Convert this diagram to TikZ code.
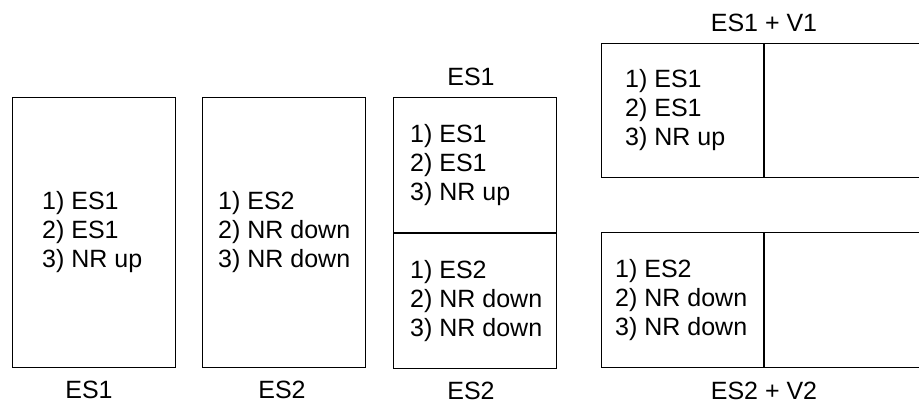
\documentclass[tikz,border=0pt]{standalone}
\usepackage{fontspec}
\setmainfont{Liberation Sans}
\usetikzlibrary{positioning}
\tikzset{
  panel/.style={draw, line width=1pt, minimum width=163pt, inner sep=0pt, anchor=north west},
  steps/.style={align=left, inner sep=0pt, anchor=west, font=\fontsize{25}{29}\selectfont},
  caption/.style={inner sep=0pt, font=\fontsize{25}{29}\selectfont}
}
\begin{document}
\begin{tikzpicture}[x=1pt, y=-1pt]
  \useasboundingbox (0,0) rectangle (919,406);
  \clip (0,0) rectangle (919,406);
  % single scenarios
  \node[panel, minimum height=270pt] (es1) at (12,97) {};
  \node[panel, minimum height=270pt] (es2) at (202,97) {};
  \node[steps, right=30pt of es1.west] (es1txt) {1) ES1\\2) ES1\\3) NR up};
  \node[steps, right=16pt of es2.west] (es2txt) {1) ES2\\2) NR down\\3) NR down};
  \node[caption, below=13pt of es1, xshift=-5pt] (es1lbl) {ES1};
  \node[caption, below=13pt of es2, xshift=-2pt] (es2lbl) {ES2};

  % stacked scenarios
  \node[panel, minimum height=135pt] (mixtop) at (393,97) {};
  \node[panel, minimum height=135pt, below=0pt of mixtop] (mixbot) {};
  \node[steps, right=17pt of mixtop.west] (mixtoptxt) {1) ES1\\2) ES1\\3) NR up};
  \node[steps, right=17pt of mixbot.west] (mixbottxt) {1) ES2\\2) NR down\\3) NR down};
  \node[caption, above=11pt of mixtop, xshift=-4pt] (mixtoplbl) {ES1};
  \node[caption, below=13pt of mixbot, xshift=-4pt] (mixbotlbl) {ES2};

  % scenarios with V
  \node[panel, minimum width=162pt, minimum height=134pt] (v1a) at (601,43) {};
  \node[panel, minimum width=170pt, minimum height=134pt, right=0pt of v1a] (v1b) {};
  \node[panel, minimum width=162pt, minimum height=135pt] (v2a) at (601,232) {};
  \node[panel, minimum width=170pt, minimum height=135pt, right=0pt of v2a] (v2b) {};
  \node[steps, right=24pt of v1a.west] (v1txt) {1) ES1\\2) ES1\\3) NR up};
  \node[steps, right=14pt of v2a.west] (v2txt) {1) ES2\\2) NR down\\3) NR down};
  \node[caption, above=11pt of v1a.north east] (v1lbl) {ES1 + V1};
  \node[caption, below=14pt of v2a.south east] (v2lbl) {ES2 + V2};
\end{tikzpicture}
\end{document}
